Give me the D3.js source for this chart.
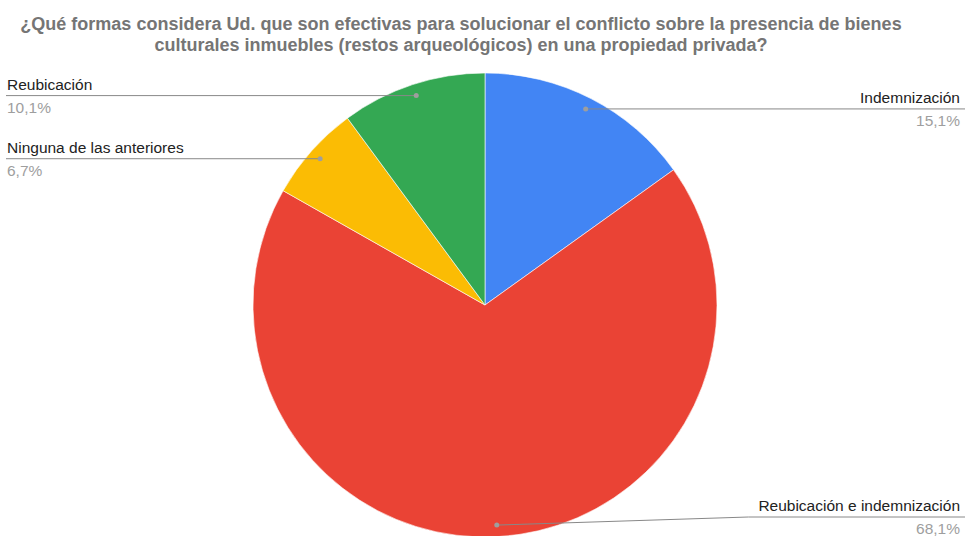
<!DOCTYPE html>
<html>
<head>
<meta charset="utf-8">
<script src="https://cdn.jsdelivr.net/npm/d3@7"></script>
<style>
  html, body { margin: 0; padding: 0; background: #fff; }
  svg { display: block; }
</style>
</head>
<body>
<svg id="chart" width="965" height="536"></svg>
<script>
// Survey answers, clockwise from 12 o'clock
const categories = ["Indemnización", "Reubicación e indemnización", "Ninguna de las anteriores", "Reubicación"];
const values = [15.1, 68.1, 6.7, 10.1];
const colors = ["#4285f4", "#ea4335", "#fbbc04", "#34a853"];
const titleLines = [
  "¿Qué formas considera Ud. que son efectivas para solucionar el conflicto sobre la presencia de bienes",
  "culturales inmuebles (restos arqueológicos) en una propiedad privada?"
];

const W = 965, H = 536;
const cx = 485, cy = 305, R = 232;
const font = "'Liberation Sans', Arial, sans-serif";

const svg = d3.select("#chart");

// Title
svg.append("g").selectAll("text")
  .data(titleLines)
  .join("text")
  .attr("x", 461)
  .attr("y", (d, i) => 30 + i * 21)
  .attr("text-anchor", "middle")
  .attr("font-family", font)
  .attr("font-size", 18)
  .attr("font-weight", "bold")
  .attr("fill", "#757575")
  .text(d => d);

const data = categories.map((c, i) => ({ name: c, value: values[i], color: colors[i] }));

const pie = d3.pie().value(d => d.value).sort(null);
const arcs = pie(data);
const arc = d3.arc().innerRadius(0).outerRadius(R);

const g = svg.append("g").attr("transform", `translate(${cx},${cy})`);
g.selectAll("path")
  .data(arcs)
  .join("path")
  .attr("d", arc)
  .attr("fill", d => d.data.color)
  .attr("stroke", "#fff")
  .attr("stroke-width", 0.6);

// Leader lines and labels
const fmt = v => v.toFixed(1).replace(".", ",") + "%";
const dotR = R * 0.95;
const labels = svg.append("g");

arcs.forEach(a => {
  const mid = (a.startAngle + a.endAngle) / 2;
  const dx = cx + dotR * Math.sin(mid);
  const dy = cy - dotR * Math.cos(mid);
  const right = Math.sin(mid) > 0;
  const ly = Math.min(dy, H - 19);

  const txt = labels.append("text")
    .attr("x", right ? 960 : 7)
    .attr("y", ly - 6)
    .attr("text-anchor", right ? "end" : "start")
    .attr("font-family", font)
    .attr("font-size", 15.5)
    .attr("fill", "#222")
    .text(a.data.name);

  labels.append("text")
    .attr("x", right ? 960 : 7)
    .attr("y", ly + 17)
    .attr("text-anchor", right ? "end" : "start")
    .attr("font-family", font)
    .attr("font-size", 15.5)
    .attr("fill", "#9e9e9e")
    .text(fmt(a.data.value));

  let pts;
  if (ly !== dy) {
    const tw = txt.node().getComputedTextLength();
    const elbow = 960 - tw - 10;
    pts = [[dx, dy], [elbow, ly], [W, ly]];
  } else {
    pts = right ? [[dx, dy], [W, ly]] : [[dx, dy], [6, ly]];
  }
  labels.append("path")
    .attr("d", d3.line()(pts))
    .attr("fill", "none")
    .attr("stroke", "#888")
    .attr("stroke-width", 1);

  labels.append("circle")
    .attr("cx", dx).attr("cy", dy).attr("r", 2.5)
    .attr("fill", "#9e9e9e");
});
</script>
</body>
</html>
